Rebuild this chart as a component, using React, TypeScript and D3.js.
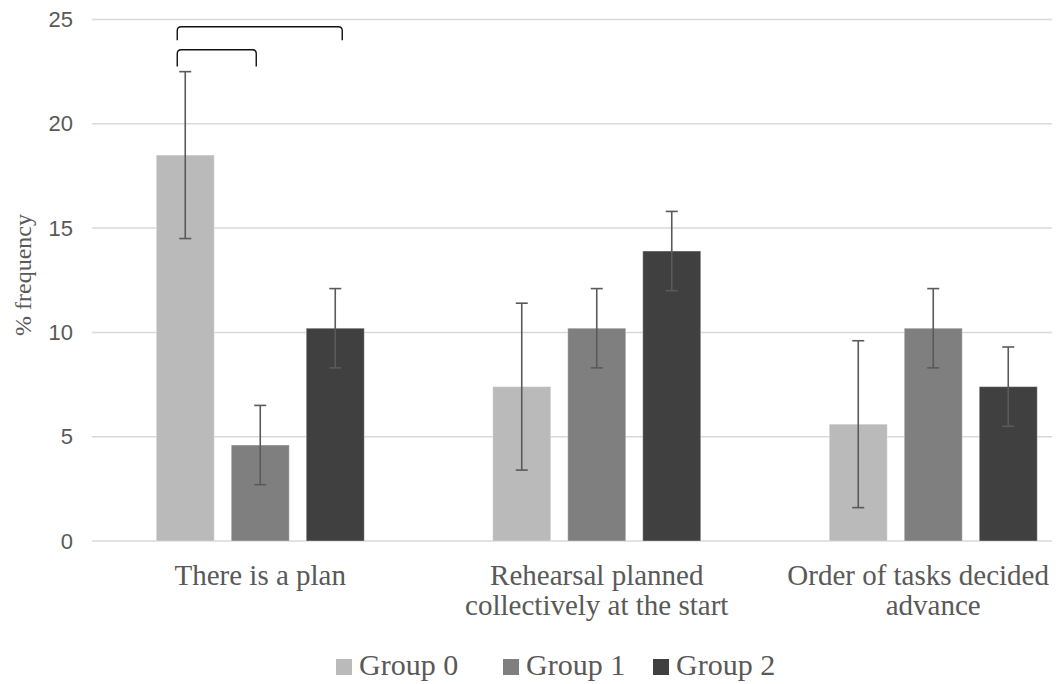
import React, { useEffect, useRef } from "react";
import * as d3 from "d3";

const categories = ["There is a plan", "Rehearsal planned collectively at the start", "Order of tasks decided advance"];
const categoryLines = [["There is a plan"], ["Rehearsal planned", "collectively at the start"], ["Order of tasks decided", "advance"]];
const groups = ["Group 0", "Group 1", "Group 2"];
const group0 = [18.5, 7.4, 5.6];
const group1 = [4.6, 10.2, 10.2];
const group2 = [10.2, 13.9, 7.4];
const err0 = [4.0, 4.0, 4.0];
const err1 = [1.9, 1.9, 1.9];
const err2 = [1.9, 1.9, 1.9];
const yTicks = [0, 5, 10, 15, 20, 25];
const colors = ["#bababa", "#7f7f7f", "#404040"];
// significance brackets in the first category: from group, to group, top level, leg end levels
const bracketFrom = [0, 0];
const bracketTo = [1, 2];
const bracketTop = [23.55, 24.65];
const bracketLegEnd = [22.75, 24.0];
const bracketDx = [[-8, -4], [-8, 7]];

const W = 1062;
const H = 684;

export default function App() {
  const ref = useRef<SVGSVGElement>(null);
  useEffect(() => {
    const svg = d3.select(ref.current);
    svg.selectAll("*").remove();
    const values = [group0, group1, group2];
    const errs = [err0, err1, err2];

    const x = d3.scaleBand<string>().domain(categories).range([92, 1101.5]).padding(0);
    const xi = d3.scaleBand<string>().domain(groups).range([-104, 104]).paddingInner(17 / 75).paddingOuter(0);
    const y = d3.scaleLinear().domain([0, 25]).range([541, 19.5]);
    const textColor = "#595959";

    // gridlines
    svg.append("g").selectAll("line").data(yTicks).join("line")
      .attr("x1", 92).attr("x2", 1052)
      .attr("y1", (d) => y(d)).attr("y2", (d) => y(d))
      .attr("stroke", "#d9d9d9").attr("stroke-width", 1.5);

    // y tick labels
    svg.append("g").selectAll("text").data(yTicks).join("text")
      .attr("x", 73).attr("y", (d) => y(d))
      .attr("text-anchor", "end").attr("dominant-baseline", "central")
      .attr("font-family", "Liberation Sans, Arial, sans-serif").attr("font-size", 22)
      .attr("fill", textColor).text((d) => String(d));

    // y title
    svg.append("text")
      .attr("transform", `translate(31,275) rotate(-90)`)
      .attr("text-anchor", "middle")
      .attr("font-family", "Liberation Serif, Times New Roman, serif").attr("font-size", 24)
      .attr("fill", textColor).text("% frequency");

    // bars and error bars
    groups.forEach((g, gi) => {
      const gg = svg.append("g");
      categories.forEach((c, ci) => {
        const v = values[gi][ci];
        const e = errs[gi][ci];
        const bx = (x(c) as number) + x.bandwidth() / 2 + (xi(g) as number);
        const bw = xi.bandwidth();
        gg.append("rect")
          .attr("x", bx).attr("y", y(v)).attr("width", bw).attr("height", y(0) - y(v))
          .attr("fill", colors[gi]).attr("stroke", "#ffffff").attr("stroke-opacity", 0.35).attr("stroke-width", 1);
        const cx = bx + bw / 2;
        const eg = gg.append("g").attr("stroke", "#5a5a5a").attr("stroke-width", 1.6);
        eg.append("line").attr("x1", cx).attr("x2", cx).attr("y1", y(v + e)).attr("y2", y(v - e));
        eg.append("line").attr("x1", cx - 6).attr("x2", cx + 6).attr("y1", y(v + e)).attr("y2", y(v + e));
        eg.append("line").attr("x1", cx - 6).attr("x2", cx + 6).attr("y1", y(v - e)).attr("y2", y(v - e));
      });
    });

    // brackets
    const c0 = categories[0];
    bracketFrom.forEach((f, i) => {
      const x1 = (x(c0) as number) + x.bandwidth() / 2 + (xi(groups[f]) as number) + xi.bandwidth() / 2 + bracketDx[i][0];
      const x2 = (x(c0) as number) + x.bandwidth() / 2 + (xi(groups[bracketTo[i]]) as number) + xi.bandwidth() / 2 + bracketDx[i][1];
      const yt = y(bracketTop[i]);
      const yb = y(bracketLegEnd[i]);
      const r = 4;
      const p = `M${x1},${yb} L${x1},${yt + r} Q${x1},${yt} ${x1 + r},${yt} L${x2 - r},${yt} Q${x2},${yt} ${x2},${yt + r} L${x2},${yb}`;
      svg.append("path").attr("d", p).attr("fill", "none").attr("stroke", "#111").attr("stroke-width", 1.4);
    });

    // category labels
    categories.forEach((c, ci) => {
      const cx = (x(c) as number) + x.bandwidth() / 2;
      categoryLines[ci].forEach((line, li) => {
        const t = svg.append("text")
          .attr("x", cx).attr("y", 585 + li * 30)
          .attr("text-anchor", "middle")
          .attr("font-family", "Liberation Serif, Times New Roman, serif").attr("font-size", 29)
          .attr("fill", textColor).text(line);
        const node = t.node() as SVGTextElement;
        const w = node.getComputedTextLength();
        if (cx + w / 2 > 1049) t.attr("x", 1049 - w / 2);
      });
    });

    // legend
    const legendX = [336, 503, 653];
    groups.forEach((g, gi) => {
      const lg = svg.append("g").attr("transform", `translate(${legendX[gi]},0)`);
      lg.append("rect").attr("x", 0).attr("y", 659).attr("width", 16).attr("height", 16).attr("fill", colors[gi]);
      lg.append("text").attr("x", 23).attr("y", 675)
        .attr("font-family", "Liberation Serif, Times New Roman, serif").attr("font-size", 30)
        .attr("fill", textColor).text(g);
    });
  }, []);

  return (
    <svg ref={ref} width={W} height={H} style={{ position: "absolute", left: 0, top: 0, background: "#fff" }} />
  );
}
